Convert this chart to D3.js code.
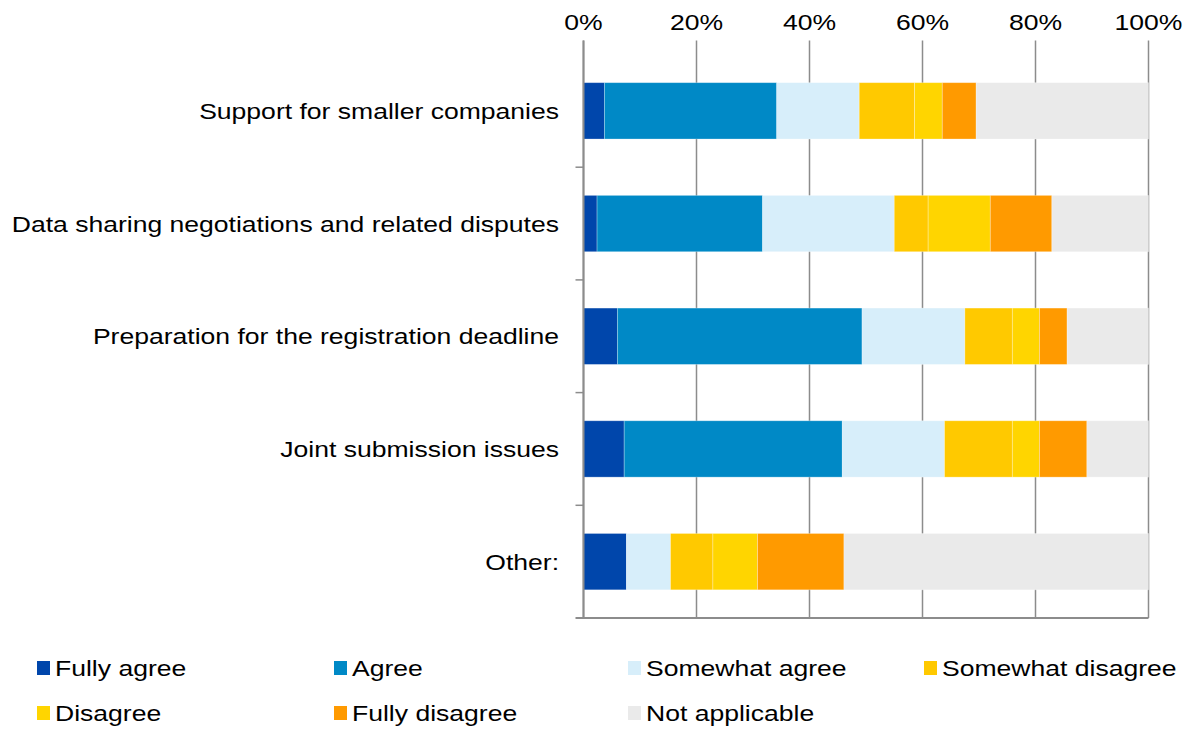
<!DOCTYPE html>
<html>
<head>
<meta charset="utf-8">
<script src="https://cdn.jsdelivr.net/npm/d3@7"></script>
<style>
  body { margin: 0; background: #fff; }
  svg text { font-family: "Liberation Sans", Arial, sans-serif; fill: #000; }
</style>
</head>
<body>
<svg id="chart" width="1189" height="729"></svg>
<script>
(function () {
    'use strict';

    // categories, top to bottom
    let categories = [
        'Support for smaller companies',
        'Data sharing negotiations and related disputes',
        'Preparation for the registration deadline',
        'Joint submission issues',
        'Other:'
    ];
    let seriesNames = ['Fully agree', 'Agree', 'Somewhat agree', 'Somewhat disagree',
        'Disagree', 'Fully disagree', 'Not applicable'];
    let seriesColors = ['#0046ab', '#0089c6', '#d7eefa', '#ffc900', '#ffd500', '#ff9a00', '#eaeaea'];

    // shares in percent, one array per series (same order as categories)
    let fullyAgree       = [3.7, 2.4, 6.0, 7.2, 7.6];
    let agree            = [30.5, 29.3, 43.3, 38.6, 0];
    let somewhatAgree    = [14.6, 23.3, 18.2, 18.1, 7.8];
    let somewhatDisagree = [9.8, 6.0, 8.4, 12.0, 7.5];
    let disagree         = [4.9, 11.0, 4.8, 4.8, 7.9];
    let fullyDisagree    = [6.0, 10.9, 4.9, 8.4, 15.3];
    let notApplicable    = [30.5, 17.1, 14.4, 10.9, 53.9];

    let xTicks = [0, 20, 40, 60, 80, 100];

    let seriesValues = [fullyAgree, agree, somewhatAgree, somewhatDisagree,
        disagree, fullyDisagree, notApplicable];

    let table = categories.map(function (c, i) {
        let row = { category: c };
        seriesNames.forEach(function (s, j) { row[s] = seriesValues[j][i]; });
        return row;
    });

    let left = 583.5, right = 1148.5, top = 54.5, bottom = 618;
    let textStretch = 1.18; // the source font renders wider than Arial
    let svg = d3.select('#chart');

    let x = d3.scaleLinear().domain([0, 100]).range([left, right]);
    let y = d3.scaleBand().domain(categories).range([top, bottom])
        .paddingInner(0.5).paddingOuter(0.25);
    let color = d3.scaleOrdinal().domain(seriesNames).range(seriesColors);

    function stretched(tx, ty) {
        return 'translate(' + tx + ',' + ty + ') scale(' + textStretch + ',1)';
    }

    // vertical gridlines
    svg.append('g')
        .selectAll('line')
        .data(xTicks)
        .join('line')
        .attr('x1', function (d) { return x(d); })
        .attr('x2', function (d) { return x(d); })
        .attr('y1', top - 14)
        .attr('y2', bottom)
        .style('stroke', '#8c8c8c')
        .style('stroke-width', 1.5);

    // stacked bars
    let stacked = d3.stack().keys(seriesNames)(table);
    let layers = svg.append('g')
        .selectAll('g')
        .data(stacked)
        .join('g')
        .style('fill', function (d) { return color(d.key); });

    layers.selectAll('rect')
        .data(function (d) { return d; })
        .join('rect')
        .attr('x', function (d) { return x(d[0]); })
        .attr('y', function (d) { return y(d.data.category); })
        .attr('width', function (d) { return x(d[1]) - x(d[0]); })
        .attr('height', y.bandwidth())
        .style('stroke', 'rgba(255,255,255,0.35)')
        .style('stroke-width', 0.8);

    // top value axis labels
    svg.append('g')
        .selectAll('text')
        .data(xTicks)
        .join('text')
        .attr('transform', function (d) { return stretched(x(d), 30); })
        .attr('text-anchor', 'middle')
        .style('font-size', '22.5px')
        .text(function (d) { return d + '%'; });

    // category axis
    let catAxis = svg.append('g');
    catAxis.append('line')
        .attr('x1', left).attr('x2', left)
        .attr('y1', top - 14).attr('y2', bottom)
        .style('stroke', '#8c8c8c').style('stroke-width', 2);
    catAxis.append('line')
        .attr('x1', left - 8).attr('x2', right)
        .attr('y1', bottom).attr('y2', bottom)
        .style('stroke', '#8c8c8c').style('stroke-width', 2);
    let step = y.step();
    catAxis.selectAll('.tick')
        .data(categories.slice(1))
        .join('line')
        .attr('class', 'tick')
        .attr('x1', left - 8).attr('x2', left)
        .attr('y1', function (d) { return y(d) - step * 0.25; })
        .attr('y2', function (d) { return y(d) - step * 0.25; })
        .style('stroke', '#8c8c8c').style('stroke-width', 1.5);

    catAxis.selectAll('text')
        .data(categories)
        .join('text')
        .attr('transform', function (d) { return stretched(559, y(d) + y.bandwidth() / 2); })
        .attr('dy', '0.36em')
        .attr('text-anchor', 'end')
        .style('font-size', '22.5px')
        .text(function (d) { return d; });

    // legend
    let legendX = [37, 334, 628, 924];
    let legendY = [668, 713];
    let legend = svg.append('g')
        .selectAll('g')
        .data(seriesNames)
        .join('g')
        .attr('transform', function (d, i) {
            return 'translate(' + legendX[i % 4] + ',' + legendY[Math.floor(i / 4)] + ')';
        });
    legend.append('rect')
        .attr('x', 0).attr('y', -7)
        .attr('width', 13).attr('height', 14)
        .style('fill', function (d) { return color(d); });
    legend.append('text')
        .attr('transform', stretched(18, 0))
        .attr('dy', '0.36em')
        .style('font-size', '22.5px')
        .text(function (d) { return d; });
})();
</script>
</body>
</html>
